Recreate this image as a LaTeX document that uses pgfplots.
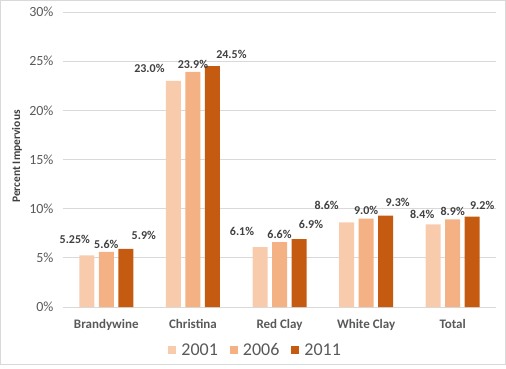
\documentclass[border=0pt]{standalone}
\usepackage{pgfplots}
\pgfplotsset{compat=1.18}
\usepackage{pgfplotstable}
\usepackage{fontspec}
\setmainfont{Carlito}
\definecolor{cA}{HTML}{F8CBAD}
\definecolor{cB}{HTML}{F4B183}
\definecolor{cC}{HTML}{C55A11}
\definecolor{tickgray}{HTML}{595959}
\definecolor{labgray}{HTML}{404040}
\definecolor{gridgray}{HTML}{D9D9D9}

\pgfplotstableread{
x y dx dy lab
0 5.25 -12 8 5.25
1 23.0 -24 5 23.0
2 6.1 -18 8 6.1
3 8.6 -20 9 8.6
4 8.4 -11 2 8.4
}\tA
\pgfplotstableread{
x y dx dy lab
0 5.6 0 0 5.6
1 23.9 0 0 23.9
2 6.6 0 0 6.6
3 9.0 0 0 9.0
4 8.9 0 0 8.9
}\tB
\pgfplotstableread{
x y dx dy lab
0 5.9 18 6 5.9
1 24.5 19 4 24.5
2 6.9 12 7 6.9
3 9.3 12 5 9.3
4 9.2 10 3 9.2
}\tC

\begin{document}
\begin{tikzpicture}
\useasboundingbox (-63pt,-61pt) rectangle (443pt,307pt);
\draw[gray!30, line width=0.8pt] (-62.5pt,-57pt) rectangle (442.5pt,306.5pt);
\begin{axis}[
  at={(0pt,0pt)}, anchor=south west,
  scale only axis, width=433pt, height=295pt,
  ybar=4.5pt, bar width=15pt,
  xmin=-0.5, xmax=4.5, ymin=0, ymax=30,
  xtick={0,1,2,3,4},
  xticklabels={Brandywine,Christina,Red Clay,White Clay,Total},
  ytick={0,5,...,30},
  yticklabel={\pgfmathprintnumber[assume math mode=true]{\tick}\%},
  axis line style={draw=none},
  major tick length=0pt,
  ymajorgrids, grid style={color=gridgray, line width=0.8pt},
  yticklabel style={font=\fontsize{14}{14}\selectfont, text=tickgray, xshift=-6pt},
  xticklabel style={font=\bfseries\fontsize{13}{13}\selectfont, text=tickgray, yshift=-9pt},
  ylabel={Percent Impervious},
  ylabel style={at={(axis description cs:-0.106,0.51)}, anchor=center,
    font=\bfseries\fontsize{11.5}{11.5}\selectfont, text=labgray},
  point meta=explicit symbolic,
  nodes near coords={\pgfplotspointmeta\%},
  every node near coord/.append style={font=\bfseries\fontsize{12}{12}\selectfont, text=labgray, xshift=\dx pt, yshift=\dy pt},
  visualization depends on={\thisrow{dx}\as\dx},
  visualization depends on={\thisrow{dy}\as\dy},
  legend image code/.code={\fill[#1] (0pt,-4pt) rectangle (8pt,4pt);},
  legend style={at={(axis description cs:0.445,-0.146)}, anchor=center, draw=none,
    font=\fontsize{18}{18}\selectfont, text=tickgray,
    /tikz/every odd column/.style={column sep=3pt},
    /tikz/every even column/.style={column sep=10pt}},
  legend columns=3,
]
\addplot[fill=cA, draw=none] table[x=x, y=y, meta=lab] {\tA};
\addplot[fill=cB, draw=none] table[x=x, y=y, meta=lab] {\tB};
\addplot[fill=cC, draw=none] table[x=x, y=y, meta=lab] {\tC};
\legend{2001,2006,2011}
\end{axis}
\end{tikzpicture}
\end{document}
